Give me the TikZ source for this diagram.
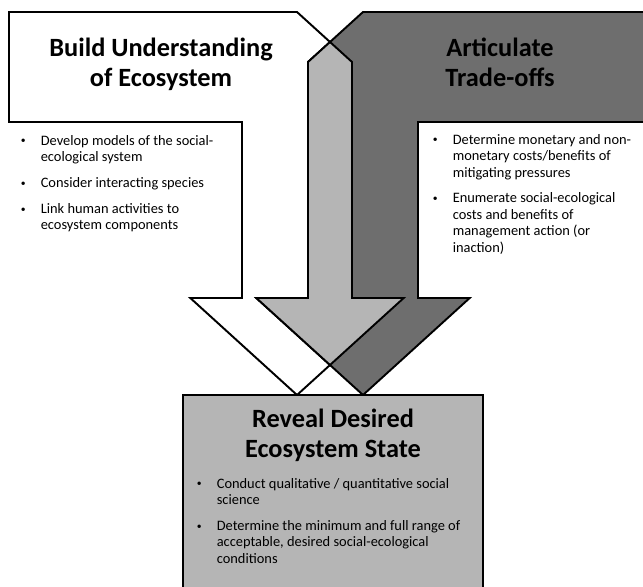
\documentclass[tikz,border=0pt]{standalone}
\usepackage{fontspec}
\setmainfont{Carlito}
\usepackage{xcolor}
\usetikzlibrary{positioning}
\definecolor{lightfill}{gray}{0.71}
\definecolor{darkfill}{gray}{0.43}
\newcommand{\headfont}{\bfseries\fontsize{15}{17.6}\selectfont}
\newcommand{\listfont}{\fontsize{8.2}{9.4}\selectfont}
\newcommand{\bul}{\raisebox{0.6pt}{\fontsize{5.5}{5.5}\selectfont\textbullet}}

\begin{document}
\begin{tikzpicture}[x=0.02cm,y=-0.02cm,line width=1.1pt,line join=miter,
	heading/.style={font=\headfont, inner sep=0pt, anchor=base},
	bullets/.style={font=\listfont, inner sep=0pt, anchor=base west}]
			\useasboundingbox (0,0) rectangle (643,586);
			\fill[color=white, draw=black] (9,12) -- (297,12) -- (352,62) -- (352,298) -- (403.7,298)
				-- (297,395) -- (190.3,298) -- (242,298) -- (242,122) -- (9,122) -- cycle;
			\fill[color=darkfill, draw=black] (363,12) -- (660,12) -- (660,122) -- (418,122) -- (418,298)
				-- (469.7,298) -- (363,395) -- (256.3,298) -- (308,298) -- (308,62) -- cycle;
			\fill[color=lightfill, draw=black] (330,42) -- (352,62) -- (352,298) -- (403.7,298)
				-- (330,365) -- (256.3,298) -- (308,298) -- (308,62) -- cycle;
			\fill[color=lightfill, draw=black] (183,395) rectangle (483,600);

			\node[heading] (build) at (161,56) {\begin{tabular}[t]{@{}c@{}}Build Understanding\\of Ecosystem\end{tabular}};
			\node[heading] (tradeoffs) at (500,56) {\begin{tabular}[t]{@{}c@{}}Articulate\\Trade-offs\end{tabular}};
			\node[heading] (reveal) at (333,427) {\begin{tabular}[t]{@{}c@{}}Reveal Desired\\Ecosystem State\end{tabular}};

			\node[bullets] (buildlist) at (20,145) {\begin{tabular}[t]{@{}p{11.3pt}@{}l@{}}
				\bul & Develop models of the social-\\
				     & ecological system\\[5.3pt]
				\bul & Consider interacting species\\[5.3pt]
				\bul & Link human activities to\\
				     & ecosystem components
			\end{tabular}};
			\node[bullets] (tradelist) at (432,144) {\begin{tabular}[t]{@{}p{11.3pt}@{}l@{}}
				\bul & Determine monetary and non-\\
				     & monetary costs/benefits of\\
				     & mitigating pressures\\[5.3pt]
				\bul & Enumerate social-ecological\\
				     & costs and benefits of\\
				     & management action (or\\
				     & inaction)
			\end{tabular}};
			\node[bullets] (reveallist) at (196,488) {\begin{tabular}[t]{@{}p{11.3pt}@{}l@{}}
				\bul & Conduct qualitative / quantitative social\\
				     & science\\[5.3pt]
				\bul & Determine the minimum and full range of\\
				     & acceptable, desired social-ecological\\
				     & conditions
			\end{tabular}};
		\end{tikzpicture}
\end{document}
